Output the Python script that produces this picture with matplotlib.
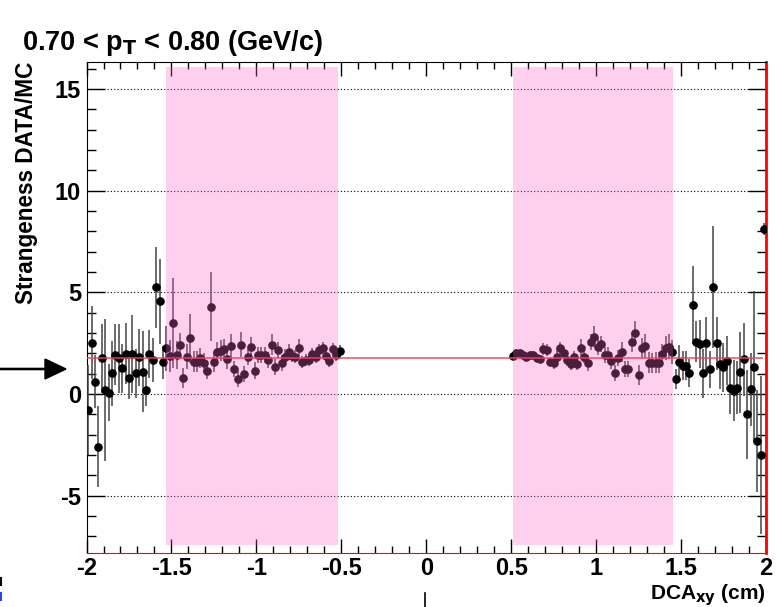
import numpy as np
import matplotlib
matplotlib.use('Agg')
import matplotlib.pyplot as plt
from matplotlib.ticker import MultipleLocator

plt.rcParams['font.family'] = ['Liberation Sans', 'DejaVu Sans']
plt.rcParams['font.weight'] = 'bold'

# bin centres, 0.02 wide
x_left = np.round(np.arange(-1.99, -0.50, 0.02), 2)
x_right = np.round(np.arange(0.51, 2.0, 0.02), 2)

y_left = [-0.80, 2.52, 0.60, -2.59, 1.76, 0.20, 0.07, 1.02, 1.92, 1.76,
          1.26, 1.97, 0.77, 1.97, 1.02, 1.80, 1.10, 0.20, 1.97, 1.67,
          5.25, 4.56, 1.56, 2.25,
          1.87, 3.48, 1.92, 2.41, 0.77, 1.84, 2.74, 1.59, 1.59, 1.76,
          1.51, 1.15, 4.29, 1.56, 2.08, 2.13, 2.21, 1.71, 2.36, 1.21,
          0.75, 2.43, 0.98, 1.80, 2.30, 1.15, 1.92, 1.92, 1.92, 1.67,
          2.43, 1.34, 2.16, 1.51, 1.80, 2.08, 1.87, 1.84, 2.28, 1.59,
          1.67, 1.67, 1.97, 1.80, 2.16, 2.25, 1.87, 1.64, 2.20, 1.92,
          2.13]
e_left = [2.2, 1.8, 1.3, 2.0, 1.7, 3.5, 1.4, 1.6, 1.5, 1.7,
          1.2, 1.5, 1.0, 1.9, 1.2, 1.4, 2.0, 0.8, 1.2, 1.1,
          2.0, 2.1, 0.8, 1.1,
          0.8, 2.2, 0.7, 0.6, 0.5, 0.6, 1.2, 0.5, 0.5, 0.5,
          0.5, 0.4, 1.7, 0.5, 0.5, 0.5, 0.5, 0.5, 0.6, 0.4,
          0.4, 0.6, 0.4, 0.4, 0.5, 0.4, 0.4, 0.4, 0.4, 0.4,
          0.5, 0.4, 0.4, 0.4, 0.4, 0.4, 0.3, 0.3, 0.4, 0.3,
          0.3, 0.3, 0.3, 0.3, 0.3, 0.3, 0.3, 0.3, 0.3, 0.3,
          0.3]

y_right = [1.88, 2.00, 2.00, 1.92, 1.84, 1.92, 1.92, 1.79, 1.71, 2.20,
           2.15, 1.59, 1.54, 1.84, 2.25, 2.03, 1.67, 1.48, 1.80, 1.48,
           2.28, 1.80, 1.51, 2.57, 2.82, 2.33, 2.46, 1.92, 1.92, 1.64,
           1.02, 1.76, 2.08, 1.21, 1.21, 2.57, 2.98, 0.93, 2.25, 2.36,
           1.54, 1.51, 1.54, 1.54, 1.97, 2.25, 2.33, 2.07,
           0.74, 1.59, 1.39, 1.39, 1.02, 4.38, 2.57, 2.46, 1.02, 2.49,
           1.21, 5.25, 2.49, 1.46, 1.31, 1.64, 0.31, 0.16, 0.31, 1.07,
           1.71, -1.00, 0.23, 1.34, -2.30, -3.00, 8.13]
e_right = [0.2, 0.2, 0.2, 0.2, 0.2, 0.2, 0.2, 0.2, 0.2, 0.3,
           0.3, 0.2, 0.3, 0.3, 0.3, 0.3, 0.3, 0.3, 0.3, 0.3,
           0.4, 0.3, 0.4, 0.4, 0.5, 0.4, 0.4, 0.4, 0.4, 0.4,
           0.4, 0.4, 0.5, 0.4, 0.4, 0.5, 0.6, 0.5, 0.5, 0.6,
           0.5, 0.5, 0.5, 0.5, 0.5, 0.6, 0.6, 0.6,
           0.5, 0.8, 0.7, 0.7, 0.7, 1.9, 1.0, 1.2, 1.2, 1.3,
           0.9, 3.0, 1.3, 1.2, 1.2, 1.2, 1.3, 1.5, 1.3, 2.0,
           1.8, 2.2, 1.8, 3.7, 2.5, 3.9, 0.3]

ratio_fit = 1.78
bands = [(-1.532, -0.522), (0.513, 1.455)]

fig = plt.figure(figsize=(7.76, 6.07), dpi=100)
ax = fig.add_axes([0.1115, 0.089, 0.8755, 0.809])

for xs, ys, es in [(x_left, y_left, e_left), (x_right, y_right, e_right)]:
    ax.errorbar(xs, ys, yerr=es, fmt='o', color='black', ecolor='#444444',
                elinewidth=1.1, markersize=5.2, capsize=0, zorder=3)

for lo, hi in bands:
    ax.fill_between([lo, hi], -7.45, 16.08, color='#ff62c8', alpha=0.3,
                    lw=0, zorder=4)

ax.plot([-1.99, 1.975], [ratio_fit, ratio_fit], color='#ee4455', lw=1.3,
        alpha=0.8, zorder=5)

ax.set_xlim(-2, 2)
ax.set_ylim(-7.82, 16.33)
ax.xaxis.set_major_locator(MultipleLocator(0.5))
ax.xaxis.set_minor_locator(MultipleLocator(0.1))
ax.yaxis.set_major_locator(MultipleLocator(5))
ax.yaxis.set_minor_locator(MultipleLocator(1))
ax.set_xticks(np.arange(-2, 2.01, 0.5))
ax.set_xticklabels(['-2', '-1.5', '-1', '-0.5', '0', '0.5', '1', '1.5', '2'])
ax.set_yticks([-5, 0, 5, 10, 15])
ax.set_yticklabels(['-5', '0', '5', '10', '15'])
ax.tick_params(axis='both', which='both', direction='in', top=True,
               right=True, labelsize=17, width=1)
ax.tick_params(axis='x', which='major', length=10, pad=3)
ax.tick_params(axis='x', which='minor', length=5)
ax.tick_params(axis='y', which='major', length=13, pad=4)
ax.tick_params(axis='y', which='minor', length=6.5)
ax.yaxis.grid(True, which='major', color='black', lw=0.8,
              linestyle=(0, (1, 2)))
ax.set_axisbelow(True)

ax.spines['bottom'].set_color('red')
ax.spines['right'].set_color('red')
ax.spines['right'].set_linewidth(2)

ax.set_ylabel('Strangeness DATA/MC', fontsize=16.3, fontweight='bold',
              loc='top', labelpad=12)
fig.text(766 / 776, 1 - 599 / 607, 'DCA$_{\\mathbf{xy}}$ (cm)', fontsize=15,
         fontweight='bold', ha='right', va='baseline')

fig.text(22 / 776, 1 - 50 / 607, '0.70 < p$_{\\mathbf{T}}$ < 0.80 (GeV/c)',
         fontsize=19.5, fontweight='bold', va='baseline')

# arrow pointing at the plot from the left
fig.add_artist(matplotlib.patches.FancyArrow(0.0, 1 - 369 / 607, 66 / 776, 0,
               width=0.002, head_width=20 / 607, head_length=21 / 776,
               length_includes_head=True, color='black',
               transform=fig.transFigure))
# scraps of neighbouring pads
fig.add_artist(plt.Line2D([0.001, 0.001], [1 - 585 / 607, 1 - 578 / 607],
               color='black', lw=1.5, transform=fig.transFigure))
fig.add_artist(plt.Line2D([0.001, 0.001], [1 - 600 / 607, 1 - 593 / 607],
               color='#3040ff', lw=1.5, transform=fig.transFigure))
fig.add_artist(plt.Line2D([425 / 776, 425 / 776], [0, 1 - 593 / 607],
               color='black', lw=1.2, transform=fig.transFigure))

fig.savefig('out.png', dpi=100)
